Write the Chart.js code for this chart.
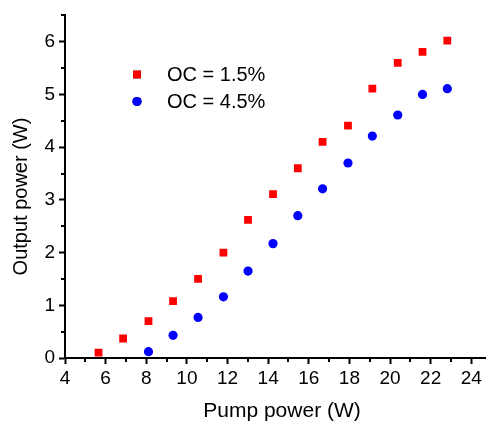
<!DOCTYPE html>
<html>
<head>
<meta charset="utf-8">
<script src="https://cdn.jsdelivr.net/npm/chart.js@4.4.1/dist/chart.umd.min.js"></script>
<style>
  html, body { margin: 0; padding: 0; background: #ffffff; }
  #wrap { width: 491px; height: 423px; overflow: hidden; }
</style>
</head>
<body>
<div id="wrap"><canvas id="c" width="491" height="423"></canvas></div>
<script>
// ---- data ----
const pumpPower   = [5.65, 6.86, 8.11, 9.32, 10.55, 11.8, 13.01, 14.24, 15.46, 16.68, 17.93, 19.13, 20.38, 21.6, 22.82];
const outputOC15  = [0.10, 0.37, 0.70, 1.08, 1.50, 2.00, 2.62, 3.11, 3.60, 4.10, 4.41, 5.11, 5.60, 5.81, 6.02];
const pumpPowerOC45 = [8.11, 9.32, 10.55, 11.8, 13.01, 14.24, 15.46, 16.68, 17.93, 19.13, 20.38, 21.6, 22.82];
const outputOC45  = [0.12, 0.43, 0.77, 1.16, 1.65, 2.17, 2.70, 3.21, 3.70, 4.21, 4.61, 5.00, 5.11];
const seriesLabels = ['OC = 1.5%', 'OC = 4.5%'];
const xTicks = [4, 6, 8, 10, 12, 14, 16, 18, 20, 22, 24];
const yTicks = [0, 1, 2, 3, 4, 5, 6];
const xTitle = 'Pump power (W)';
const yTitle = 'Output power (W)';

const FONT = '"Liberation Sans", Arial, Helvetica, sans-serif';

function toPoints(xs, ys) { return ys.map((y, i) => ({ x: xs[i], y: y })); }

// minor ticks (half way between the labelled ones), drawn with the scales
const minorTicks = {
  id: 'minorTicks',
  afterDraw(chart) {
    const ctx = chart.ctx, xs = chart.scales.x, ys = chart.scales.y;
    ctx.save();
    ctx.strokeStyle = '#000';
    ctx.lineWidth = 2;
    ctx.beginPath();
    for (let v = xs.min + 1; v <= xs.max; v += 2) {
      const px = Math.round(xs.getPixelForValue(v));
      ctx.moveTo(px, ys.bottom); ctx.lineTo(px, ys.bottom + 4);
    }
    for (let v = ys.min + 0.5; v <= ys.max + 1e-9; v += 1) {
      const py = Math.round(ys.getPixelForValue(v));
      ctx.moveTo(xs.left, py); ctx.lineTo(xs.left - 4, py);
    }
    ctx.stroke();
    ctx.restore();
  }
};

// axis titles, placed as in the reference
const axisTitles = {
  id: 'axisTitles',
  afterDraw(chart) {
    const ctx = chart.ctx;
    ctx.save();
    ctx.fillStyle = '#000';
    ctx.textAlign = 'center';
    ctx.textBaseline = 'middle';
    ctx.font = '21px ' + FONT;
    ctx.fillText(xTitle, 282, 411);
    ctx.translate(21, 196.5);
    ctx.rotate(-Math.PI / 2);
    ctx.font = '20px ' + FONT;
    ctx.fillText(yTitle, 0, 0);
    ctx.restore();
  }
};

// legend drawn inside the plot area
const innerLegend = {
  id: 'innerLegend',
  afterDraw(chart) {
    const ctx = chart.ctx;
    const rows = [{ mx: 137, my: 74.5, ty: 75.5 }, { mx: 137, my: 101.5, ty: 102.5 }];
    ctx.save();
    chart.data.datasets.forEach((ds, i) => {
      const r = rows[i];
      Chart.helpers.drawPoint(ctx, {
        pointStyle: ds.pointStyle, radius: ds.pointRadius, rotation: 0, borderWidth: 0
      }, r.mx, r.my);
      ctx.fillStyle = ds.backgroundColor;
      ctx.fill();
      ctx.fillStyle = '#000';
      ctx.font = '20px ' + FONT;
      ctx.textBaseline = 'middle';
      ctx.textAlign = 'left';
      ctx.fillText(ds.label, 167, r.ty);
    });
    ctx.restore();
  }
};

new Chart(document.getElementById('c'), {
  type: 'scatter',
  data: {
    datasets: [
      {
        label: seriesLabels[0],
        data: toPoints(pumpPower, outputOC15),
        pointStyle: 'rect',
        pointRadius: 5.5,
        pointHoverRadius: 5.5,
        pointBorderWidth: 0,
        borderWidth: 0,
        backgroundColor: '#ff0000',
        borderColor: '#ff0000'
      },
      {
        label: seriesLabels[1],
        data: toPoints(pumpPowerOC45, outputOC45),
        pointStyle: 'circle',
        pointRadius: 4.6,
        pointHoverRadius: 4.6,
        pointBorderWidth: 0,
        borderWidth: 0,
        backgroundColor: '#0000ff',
        borderColor: '#0000ff'
      }
    ]
  },
  options: {
    responsive: false,
    animation: false,
    devicePixelRatio: 1,
    layout: { padding: { top: 11, right: 0, bottom: 0, left: 0 } },
    plugins: { legend: { display: false }, tooltip: { enabled: false } },
    scales: {
      x: {
        type: 'linear',
        min: 4,
        max: 24.7,
        afterFit(scale) { scale.height = 65; },
        afterBuildTicks(scale) { scale.ticks = xTicks.map(v => ({ value: v })); },
        border: { display: true, color: '#000', width: 2 },
        grid: { display: true, drawOnChartArea: false, drawTicks: true, tickLength: 6, tickColor: '#000', tickWidth: 2 },
        ticks: { color: '#000', font: { family: FONT, size: 19 }, padding: 3, maxRotation: 0, autoSkip: false },
        title: { display: false }
      },
      y: {
        type: 'linear',
        min: 0,
        max: 6.5,
        afterFit(scale) { scale.width = 65; },
        afterBuildTicks(scale) { scale.ticks = yTicks.map(v => ({ value: v })); },
        border: { display: true, color: '#000', width: 2 },
        grid: { display: true, drawOnChartArea: false, drawTicks: true, tickLength: 6, tickColor: '#000', tickWidth: 2 },
        ticks: { color: '#000', font: { family: FONT, size: 19 }, padding: 4, autoSkip: false },
        title: { display: false }
      }
    }
  },
  plugins: [minorTicks, axisTitles, innerLegend]
});
</script>
</body>
</html>
